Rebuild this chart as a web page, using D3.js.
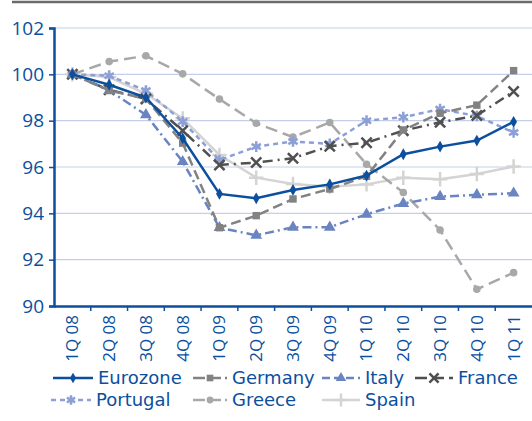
<!DOCTYPE html>
<html>
<head>
<meta charset="utf-8">
<script src="https://cdn.jsdelivr.net/npm/d3@7"></script>
<style>
  body { margin: 0; background: #fff; }
  text { font-family: "Open Sans", "DejaVu Sans", sans-serif; fill: #0b4f9e; }
</style>
</head>
<body>
<div id="chart"></div>
<script>
var quarters = ["1Q 08","2Q 08","3Q 08","4Q 08","1Q 09","2Q 09","3Q 09","4Q 09","1Q 10","2Q 10","3Q 10","4Q 10","1Q 11"];
var yTicks = [90, 92, 94, 96, 98, 100, 102];

var eurozone = [100, 99.55, 99.0, 97.24, 94.84, 94.65, 95.01, 95.25, 95.63, 96.55, 96.88, 97.14, 97.95];
var germany  = [100, 99.3, 98.95, 97.03, 93.38, 93.9, 94.62, 95.05, 95.6, 97.6, 98.32, 98.67, 100.16];
var italy    = [100, 99.3, 98.25, 96.23, 93.38, 93.05, 93.4, 93.4, 93.96, 94.42, 94.72, 94.8, 94.87];
var france   = [100, 99.33, 98.94, 97.57, 96.09, 96.19, 96.38, 96.9, 97.05, 97.57, 97.93, 98.22, 99.26];
var portugal = [100, 99.94, 99.3, 97.96, 96.3, 96.88, 97.1, 97.0, 98.0, 98.15, 98.5, 98.2, 97.49];
var greece   = [100, 100.55, 100.8, 100.02, 98.93, 97.89, 97.29, 97.92, 96.12, 94.9, 93.28, 90.72, 91.44];
var spain    = [100, 99.88, 99.16, 98.1, 96.52, 95.54, 95.27, 95.15, 95.25, 95.54, 95.47, 95.7, 96.02];

var series = [
  {name: "Eurozone", values: eurozone, color: "#0b4f9e", dash: null,        legDash: null,   symbol: d3.symbolDiamond,  fill: true,  size: 40},
  {name: "Germany",  values: germany,  color: "#828282", dash: "10,5",      legDash: "12,4", symbol: d3.symbolSquare,   fill: true,  size: 55},
  {name: "Italy",    values: italy,    color: "#6a84c2", dash: "9,4,2,4",   legDash: "8,4",  symbol: d3.symbolTriangle, fill: true,  size: 60},
  {name: "France",   values: france,   color: "#505050", dash: "10,5,2,5",  legDash: "12,5", symbol: d3.symbolX,        fill: false, size: 70},
  {name: "Portugal", values: portugal, color: "#8c9fd6", dash: "5,4",       legDash: "5,4",  symbol: d3.symbolAsterisk, fill: false, size: 80},
  {name: "Greece",   values: greece,   color: "#a8a8a8", dash: "12,6",      legDash: "12,4", symbol: d3.symbolCircle,   fill: true,  size: 45},
  {name: "Spain",    values: spain,    color: "#d4d4d4", dash: null,        legDash: null,   symbol: d3.symbolPlus,     fill: false, size: 70}
];

var svg = d3.select("#chart").append("svg")
  .attr("width", 532)
  .attr("height", 421);

var margin = {top: 28, right: 0, bottom: 115, left: 54},
    width = 532 - margin.left - margin.right,
    height = 421 - margin.top - margin.bottom;

// top rule
svg.append("line")
  .attr("x1", 12).attr("x2", 532)
  .attr("y1", 2).attr("y2", 2)
  .attr("stroke", "#6b6b6b").attr("stroke-width", 2.5);

var g = svg.append("g").attr("transform", "translate(" + margin.left + "," + margin.top + ")");

var x = d3.scaleBand().domain(quarters).range([0, width]);
var y = d3.scaleLinear().domain([90, 102]).range([height, 0]);

// gridlines
g.selectAll(".grid")
  .data(yTicks.slice(1))
  .enter().append("line")
  .attr("x1", 0).attr("x2", width)
  .attr("y1", function(d) { return y(d); })
  .attr("y2", function(d) { return y(d); })
  .attr("stroke", "#c6cfea").attr("stroke-width", 1.2);

// y axis
var yAxis = g.append("g")
  .call(d3.axisLeft(y).tickValues(yTicks).tickSize(5).tickPadding(5));
yAxis.select(".domain").attr("stroke", "#0b4f9e").attr("stroke-width", 2.5);
yAxis.selectAll(".tick line").attr("stroke", "#0b4f9e").attr("stroke-width", 1.5);
yAxis.selectAll("text").attr("font-size", "19px").style("font-family", "'Open Sans', sans-serif").attr("fill", "#0b4f9e");

// x axis
var xAxis = g.append("g")
  .attr("transform", "translate(0," + height + ")")
  .call(d3.axisBottom(x).tickSize(0).tickPadding(0));
xAxis.select(".domain").attr("stroke", "#0b4f9e").attr("stroke-width", 2.5);
xAxis.selectAll(".tick text")
  .attr("font-size", "17px")
  .attr("fill", "#0b4f9e")
  .attr("transform", "rotate(-90)")
  .attr("text-anchor", "end")
  .attr("x", -9)
  .attr("y", 0)
  .attr("dy", "0.35em");

// band boundary ticks
g.selectAll(".xtick")
  .data(quarters.slice(1))
  .enter().append("line")
  .attr("x1", function(d) { return x(d); })
  .attr("x2", function(d) { return x(d); })
  .attr("y1", height).attr("y2", height + 5)
  .attr("stroke", "#0b4f9e").attr("stroke-width", 1.5);

var line = d3.line()
  .x(function(d, i) { return x(quarters[i]) + x.bandwidth() / 2; })
  .y(function(d) { return y(d); });

// draw back to front
var order = series.slice().reverse();
order.forEach(function(s) {
  g.append("path")
    .datum(s.values)
    .attr("fill", "none")
    .attr("stroke", s.color)
    .attr("stroke-width", 2.5)
    .attr("stroke-dasharray", s.dash)
    .attr("d", line);

  g.selectAll(null)
    .data(s.values)
    .enter().append("path")
    .attr("transform", function(d, i) {
      return "translate(" + (x(quarters[i]) + x.bandwidth() / 2) + "," + y(d) + ")";
    })
    .attr("d", d3.symbol().type(s.symbol).size(s.size))
    .attr("fill", s.fill ? s.color : "none")
    .attr("stroke", s.fill ? "none" : s.color)
    .attr("stroke-width", 2.5);
});

// legend
var legPos = [
  {x: 53, y: 378}, {x: 193, y: 378}, {x: 322, y: 378}, {x: 415, y: 378},
  {x: 51, y: 400}, {x: 193, y: 400}, {x: 322, y: 400}
];
var legLen = [40, 34, 38, 38, 40, 34, 38];

var legend = svg.selectAll(".legend")
  .data(series)
  .enter().append("g")
  .attr("class", "legend")
  .attr("transform", function(d, i) { return "translate(" + legPos[i].x + "," + legPos[i].y + ")"; });

legend.append("line")
  .attr("x1", 0)
  .attr("x2", function(d, i) { return legLen[i]; })
  .attr("y1", 0).attr("y2", 0)
  .attr("stroke", function(d) { return d.color; })
  .attr("stroke-width", 2.5)
  .attr("stroke-dasharray", function(d) { return d.legDash; });

legend.append("path")
  .attr("transform", function(d, i) { return "translate(" + legLen[i] / 2 + ",0)"; })
  .attr("d", function(d) { return d3.symbol().type(d.symbol).size(d.size * 0.8)(); })
  .attr("fill", function(d) { return d.fill ? d.color : "none"; })
  .attr("stroke", function(d) { return d.fill ? "none" : d.color; })
  .attr("stroke-width", 2.5);

legend.append("text")
  .attr("x", function(d, i) { return legLen[i] + 5; })
  .attr("y", 0)
  .attr("dy", "0.36em")
  .attr("font-size", "18px")
  .style("font-family", "'DejaVu Sans', sans-serif")
  .text(function(d) { return d.name; });
</script>
</body>
</html>
